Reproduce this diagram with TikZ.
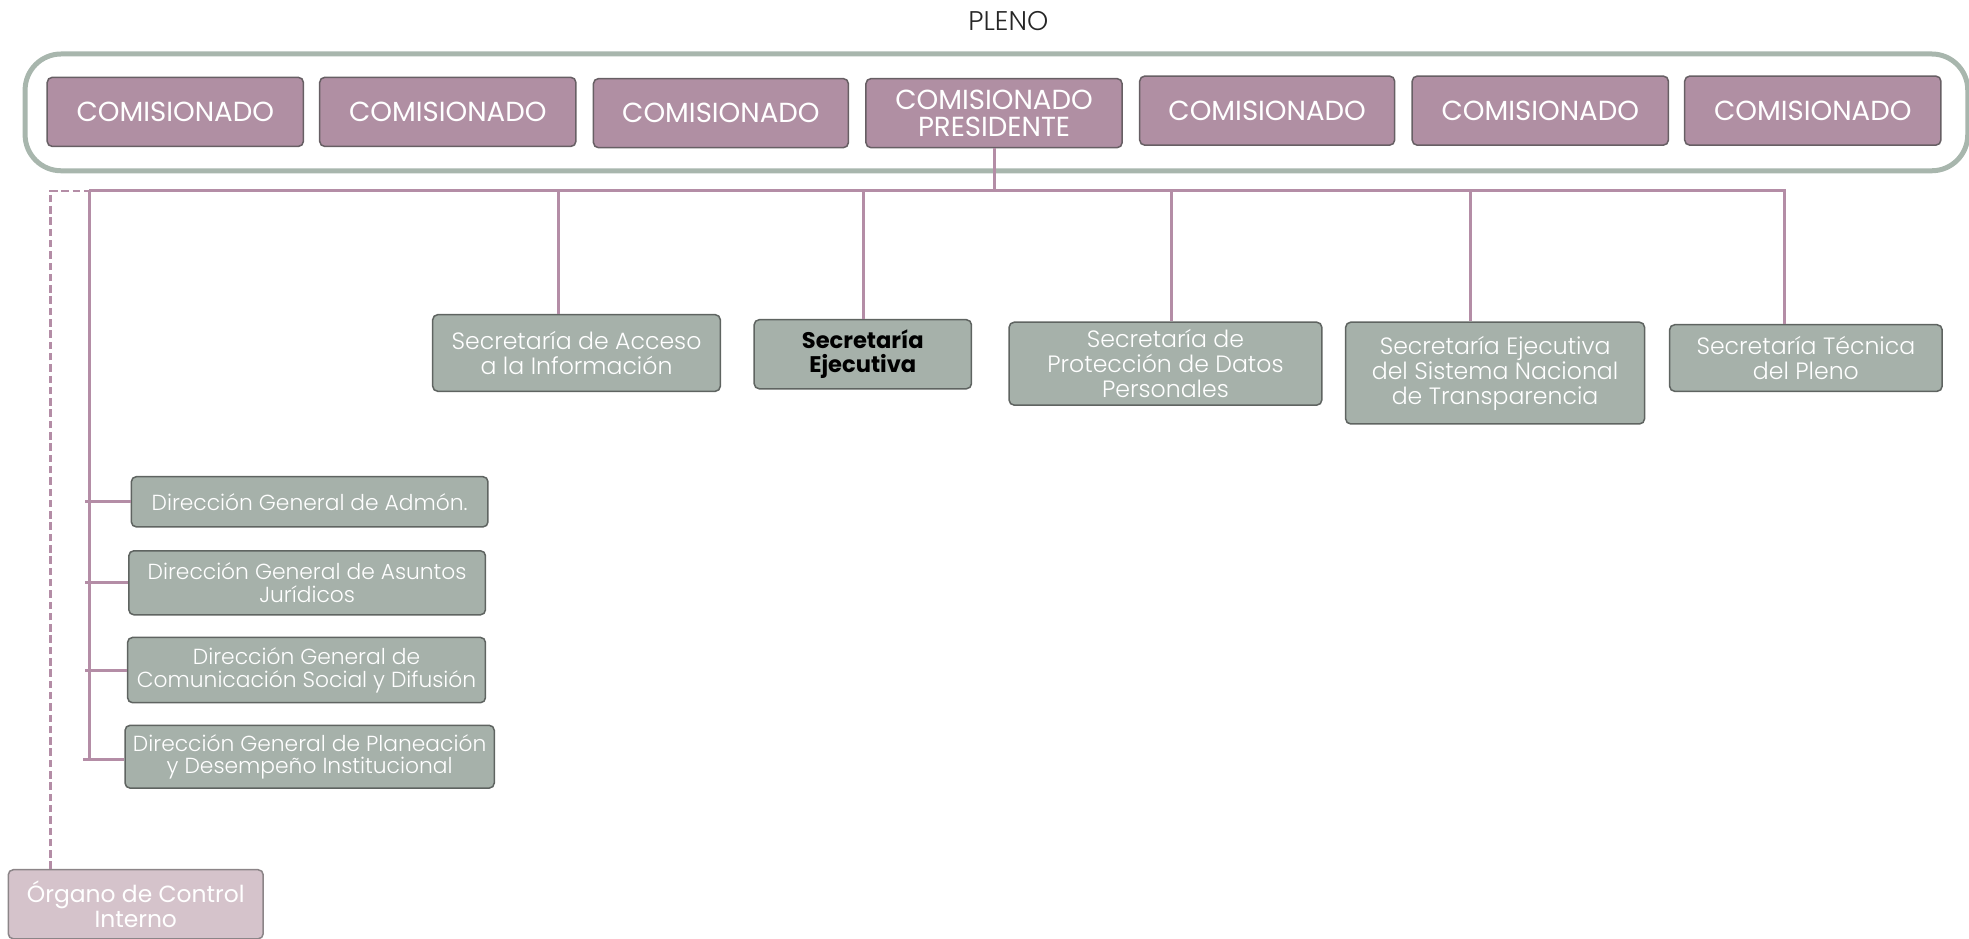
\documentclass[tikz,border=0pt]{standalone}
\usepackage{fontspec}
\setmainfont{Poppins}
\newfontfamily\lightfont{Poppins Light}
\usetikzlibrary{calc}

\definecolor{mauve}{HTML}{B08FA3}
\definecolor{mauveline}{HTML}{675F64}
\definecolor{sage}{HTML}{A6B1AA}
\definecolor{sageline}{HTML}{5F6461}
\definecolor{framecol}{HTML}{A8B6AD}
\definecolor{linkcol}{HTML}{B48DA6}
\definecolor{blush}{HTML}{D5C3CB}
\definecolor{blushline}{HTML}{8C8588}

\newcommand\pxu{1.2557}

\tikzset{
  wh/.style 2 args={minimum width=#1*\pxu pt, minimum height=#2*\pxu pt},
  basebox/.style={anchor=north west, rounded corners=5pt, line width=1.5pt,
    inner sep=1pt, align=center, text=white},
  combox/.style={basebox, fill=mauve, draw=mauveline,
    font=\fontsize{27.6}{28}\selectfont},
  secbox/.style={basebox, fill=sage, draw=sageline,
    font=\lightfont\fontsize{23.6}{25.1}\selectfont},
  dirbox/.style={basebox, fill=sage, draw=sageline,
    font=\lightfont\fontsize{21.8}{22.6}\selectfont},
  orgbox/.style={basebox, fill=blush, draw=blushline,
    font=\fontsize{23.4}{24.6}\selectfont},
  link/.style={draw=linkcol, line width=3pt},
  dashlink/.style={draw=linkcol, line width=2.6pt, dash pattern=on 7.5pt off 3.8pt},
}

\begin{document}
\begin{tikzpicture}[x=1.2557pt, y=-1.2557pt]
\useasboundingbox (0,0) rectangle (1568,747);

% Pleno frame and title
\node[anchor=north west, draw=framecol, line width=5pt, rounded corners=36pt,
  wh={1547}{93}, inner sep=0pt] (frame) at (18,41) {};
\node[font=\lightfont\fontsize{27}{28}\selectfont, text=black!85] (pleno) at (803,17) {PLENO};

% Commissioners
\node[combox, wh={204}{55}] (c1) at (37,61) {COMISIONADO};
\node[combox, wh={204}{55}] (c2) at (254,61) {COMISIONADO};
\node[combox, wh={203}{55}] (c3) at (472,62) {COMISIONADO};
\node[combox, wh={204}{55}, font=\fontsize{27.6}{27}\selectfont] (c4) at (689,62) {COMISIONADO\\PRESIDENTE};
\node[combox, wh={203}{55}] (c5) at (907,60) {COMISIONADO};
\node[combox, wh={204}{55}] (c6) at (1124,60) {COMISIONADO};
\node[combox, wh={204}{55}] (c7) at (1341,60) {COMISIONADO};

% Secretariats
\node[secbox, wh={229}{61}] (sa) at (344,250) {Secretaría de Acceso\\a la Información};
\node[secbox, wh={173}{55}, text=black, font=\bfseries\fontsize{22.6}{24.4}\selectfont] (sb) at (600,254) {Secretaría\\Ejecutiva};
\node[secbox, wh={249}{66}] (sc) at (803,256) {Secretaría de\\Protección de Datos\\Personales};
\node[secbox, wh={238}{81}] (sd) at (1071,256) {Secretaría Ejecutiva\\del Sistema Nacional\\de Transparencia};
\node[secbox, wh={217}{53}] (se) at (1329,258) {Secretaría Técnica\\del Pleno};

% General directorates
\node[dirbox, wh={284}{40}] (d1) at (104,379) {Dirección General de Admón.};
\node[dirbox, wh={284}{51}] (d2) at (102,438) {Dirección General de Asuntos\\Jurídicos};
\node[dirbox, wh={285}{52}] (d3) at (101,507) {Dirección General de\\Comunicación Social y Difusión};
\node[dirbox, wh={294}{50}] (d4) at (99,577) {Dirección General de Planeación\\y Desempeño Institucional};

% Internal control
\node[orgbox, wh={203}{55}] (org) at (6,692) {Órgano de Control\\Interno};

% Bus coordinates
\coordinate (busL) at (104,152);
\coordinate (busR) at (1421,152);
\coordinate (dropA) at (445,152);
\coordinate (dropB) at (688,152);
\coordinate (dropC) at (933,152);
\coordinate (dropD) at (1171,152);
\coordinate (spine) at (71,152);
\coordinate (spineEnd) at (71,605);
\coordinate (ctl) at (40,152);

% Connectors
\draw[link] (c4.south) -- (c4.south |- busL);
\draw[link] (spine) -- (busR) -- (busR |- se.north);
\draw[link] (dropA) -- (dropA |- sa.north);
\draw[link] (dropB) -- (dropB |- sb.north);
\draw[link] (dropC) -- (dropC |- sc.north);
\draw[link] (dropD) -- (dropD |- sd.north);
\draw[link] (spine) -- (spineEnd);
\draw[link] ([xshift=-4pt]spine |- d1.west) -- (d1.west);
\draw[link] ([xshift=-4pt]spine |- d2.west) -- (d2.west);
\draw[link] ([xshift=-4pt]spine |- d3.west) -- (d3.west);
\draw[link] ([xshift=-6pt]spineEnd) -- (spineEnd -| d4.west);
\draw[dashlink] (ctl |- org.north) -- (ctl) -- (busL);
\end{tikzpicture}
\end{document}
